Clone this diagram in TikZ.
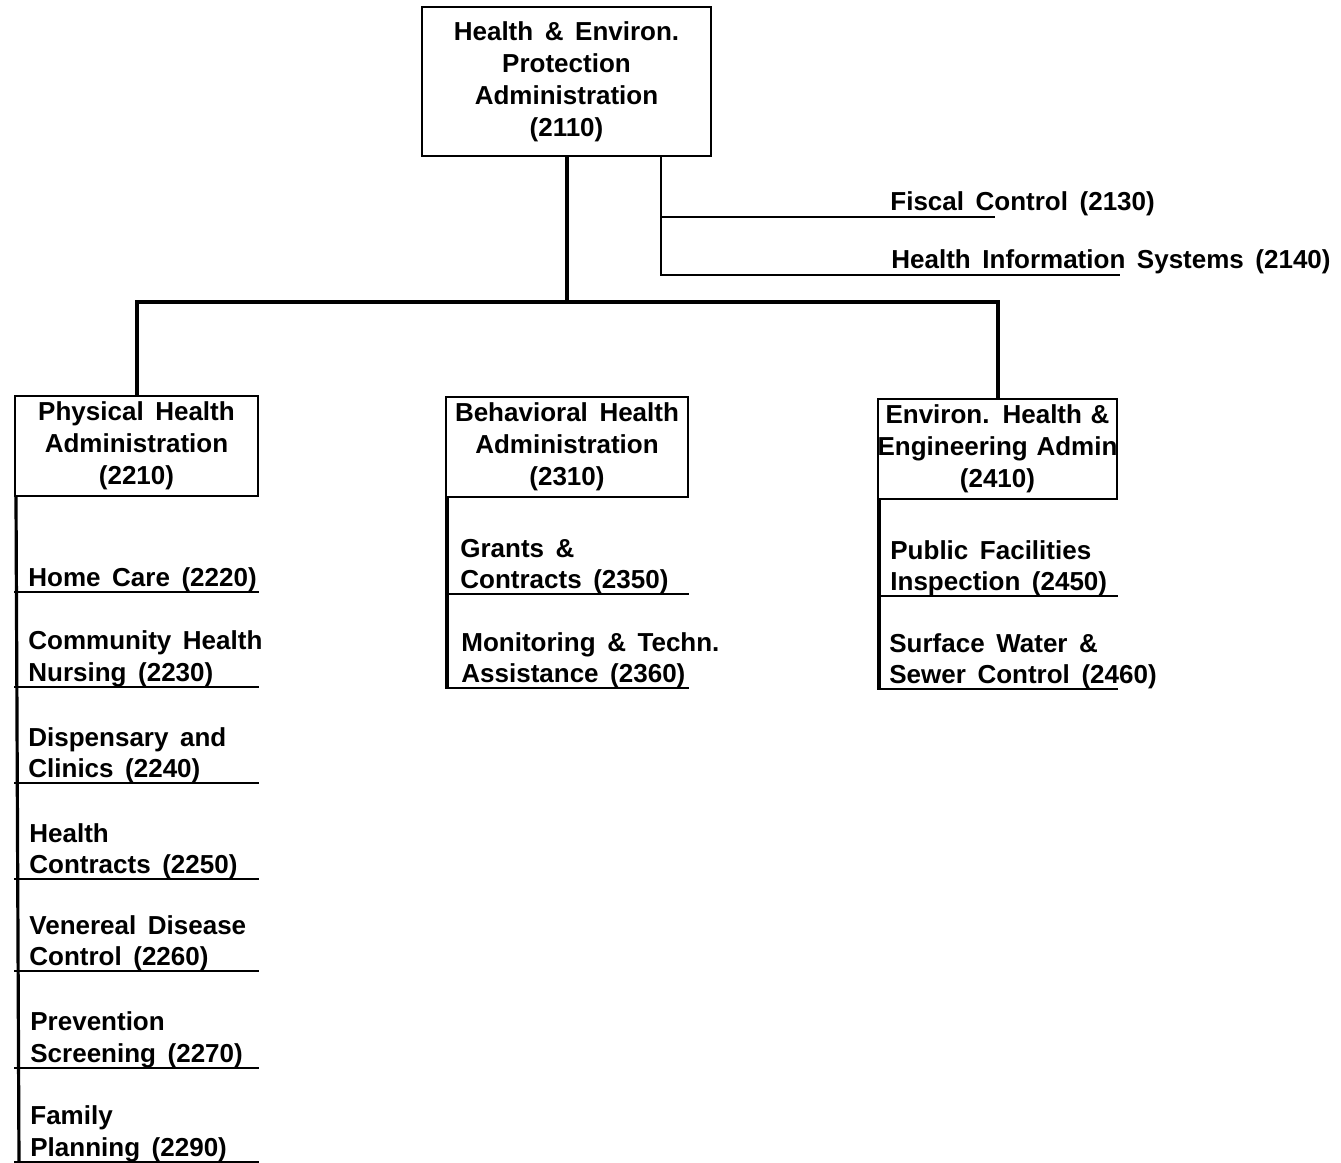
\documentclass[tikz,border=0pt]{standalone}
\usepackage{fontspec}
\setmainfont[WordSpace=1.6]{Liberation Sans}
\usetikzlibrary{positioning}

\tikzset{
  unitbox/.style={draw, line width=1pt, align=center, inner sep=0pt,
                  font=\bfseries\fontsize{13}{16}\selectfont},
  subunit/.style={anchor=south west, align=left, inner sep=0pt,
                  font=\bfseries\fontsize{13}{15.6}\selectfont},
  trunk/.style={line width=2pt},
  tap/.style={line width=1.2pt},
  stem/.style={line width=1.6pt},
  rule/.style={line width=0.8pt}
}

\begin{document}
\begin{tikzpicture}[x=0.5pt,y=-0.5pt]
\useasboundingbox (0,0) rectangle (1341,1163);
%top
\node[unitbox, minimum width=144.5pt, minimum height=74.5pt] (hep) at (566.5,81.5)
  {Health \& Environ.\\Protection\\Administration\\(2110)};
\coordinate (tap) at (661,156);
\coordinate (fcend) at (995,217);
\coordinate (hisend) at (1120,275);
\node[subunit] (fc) at (890,216) {Fiscal Control (2130)};
\node[subunit] (his) at (891,274) {Health Information Systems (2140)};
\draw[tap] (tap) |- (hisend);
\draw[tap] (tap |- fcend) -- (fcend);
%administrations
\node[unitbox, minimum width=121.5pt, minimum height=50pt] (pha) at (136.5,446)
  {Physical Health\\Administration\\(2210)};
\node[unitbox, minimum width=121pt, minimum height=50pt] (bha) at (567,447)
  {Behavioral Health\\Administration\\(2310)};
\node[unitbox, text width=119.5pt, minimum height=50pt] (eha) at (997.5,449)
  {Environ. Health \&\\\makebox[\linewidth]{Engineering Admin}\\(2410)};
\coordinate (bar) at (566.5,302);
\draw[trunk] (hep.south) -- (bar);
\draw[trunk] (pha.north) |- (bar) -| (eha.north);
%physical health
\node[subunit] (hc) at (28,592) {Home Care (2220)};
\node[subunit] (chn) at (28,687) {Community Health\\Nursing (2230)};
\node[subunit] (dc) at (28,783) {Dispensary and\\Clinics (2240)};
\node[subunit] (hct) at (29,879) {Health\\Contracts (2250)};
\node[subunit] (vd) at (29,971) {Venereal Disease\\Control (2260)};
\node[subunit] (ps) at (30,1068) {Prevention\\Screening (2270)};
\node[subunit] (fp) at (30,1162) {Family\\Planning (2290)};
\coordinate (phend) at (17,1163);
\draw[stem] ([xshift=1pt]pha.south west) -- ([xshift=1pt]phend);
\draw[rule] (hc.south -| pha.west) -- (hc.south -| pha.east);
\draw[rule] (chn.south -| pha.west) -- (chn.south -| pha.east);
\draw[rule] (dc.south -| pha.west) -- (dc.south -| pha.east);
\draw[rule] (hct.south -| pha.west) -- (hct.south -| pha.east);
\draw[rule] (vd.south -| pha.west) -- (vd.south -| pha.east);
\draw[rule] (ps.south -| pha.west) -- (ps.south -| pha.east);
\draw[rule] (fp.south -| pha.west) -- (fp.south -| pha.east);
%behavioral health
\node[subunit] (gc) at (460,594) {Grants \&\\Contracts (2350)};
\node[subunit] (mta) at (461,688) {Monitoring \& Techn.\\Assistance (2360)};
\draw[stem] ([xshift=1pt]bha.south west) -- ([xshift=1pt]mta.south -| bha.west);
\draw[rule] (gc.south -| bha.west) -- (gc.south -| bha.east);
\draw[rule] (mta.south -| bha.west) -- (mta.south -| bha.east);
%environ. health
\node[subunit] (pfi) at (890,596) {Public Facilities\\Inspection (2450)};
\node[subunit] (swsc) at (889,689) {Surface Water \&\\Sewer Control (2460)};
\draw[stem] ([xshift=1pt]eha.south west) -- ([xshift=1pt]swsc.south -| eha.west);
\draw[rule] (pfi.south -| eha.west) -- (pfi.south -| eha.east);
\draw[rule] (swsc.south -| eha.west) -- (swsc.south -| eha.east);
\end{tikzpicture}
\end{document}
